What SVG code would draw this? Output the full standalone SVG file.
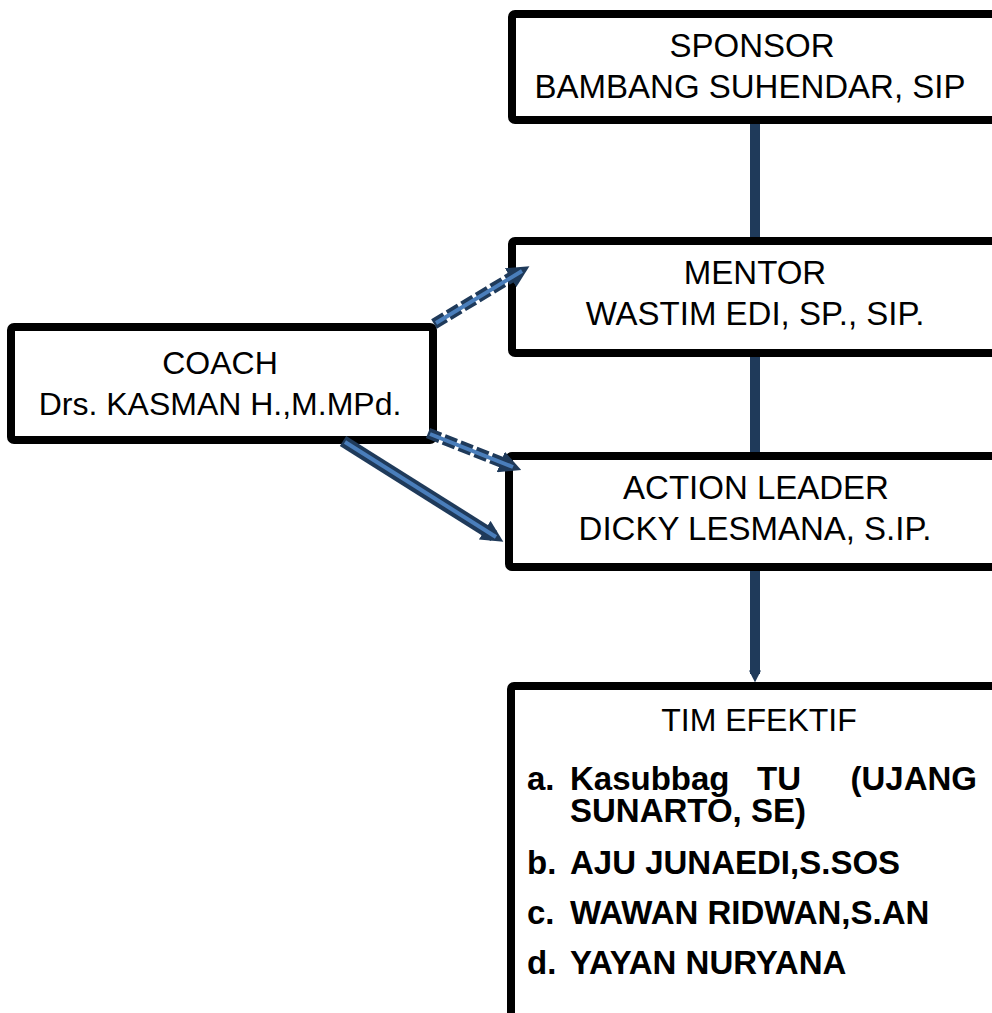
<svg xmlns="http://www.w3.org/2000/svg" width="992" height="1013" viewBox="0 0 992 1013">
<style>
.box{fill:#fff;stroke:#000;stroke-width:8}
.t{font-family:"Liberation Sans",Arial,sans-serif;font-size:33px;fill:#000;text-anchor:middle}
.b{font-family:"Liberation Sans",Arial,sans-serif;font-size:33px;font-weight:bold;fill:#000}
.v{stroke:#1F3A5A;stroke-width:10;fill:none}
.o{stroke:#1F3A5A;stroke-width:12;fill:none}
.od{stroke:#1F3A5A;stroke-width:11;fill:none;stroke-dasharray:13 4}
.i{stroke:#4A7EBB;stroke-width:4;fill:none}
</style>
<defs>
<marker id="ah" viewBox="0 0 10 10" refX="5" refY="5" markerWidth="22" markerHeight="22" markerUnits="userSpaceOnUse" orient="auto">
<path d="M0,0 L10,5 L0,10 z" fill="#1F3A5A"/>
</marker>
<marker id="av" viewBox="0 0 10 10" refX="3" refY="5" markerWidth="12" markerHeight="24" markerUnits="userSpaceOnUse" orient="auto">
<path d="M0,0 L10,5 L0,10 z" fill="#1F3A5A"/>
</marker>
</defs>
<g id="sponsor">
<rect class="box" x="512" y="14" width="500" height="106" rx="3"/>
<text class="t" x="752" y="57">SPONSOR</text>
<text class="t" x="750" y="98">BAMBANG SUHENDAR, SIP</text>
</g>
<g id="mentor">
<rect class="box" x="512" y="241" width="500" height="112" rx="3"/>
<text class="t" x="755" y="284">MENTOR</text>
<text class="t" x="755" y="325">WASTIM EDI, SP., SIP.</text>
</g>
<g id="coach">
<rect class="box" x="11" y="327" width="422" height="113" rx="3"/>
<text class="t" x="220" y="374" style="font-size:32px">COACH</text>
<text class="t" x="220" y="415" style="font-size:32px">Drs. KASMAN H.,M.MPd.</text>
</g>
<g id="action-leader">
<rect class="box" x="509" y="456" width="503" height="111" rx="3"/>
<text class="t" x="756" y="499">ACTION LEADER</text>
<text class="t" x="755" y="540">DICKY LESMANA, S.IP.</text>
</g>
<g id="tim-efektif">
<rect class="box" x="511" y="686" width="501" height="360" rx="3"/>
<text class="t" x="759" y="731" style="font-size:32px">TIM EFEKTIF</text>
<text class="b" x="527" y="790">a.</text>
<text class="b" x="570" y="790">Kasubbag</text>
<text class="b" x="757" y="790">TU</text>
<text class="b" x="977" y="790" text-anchor="end">(UJANG</text>
<text class="b" x="570" y="822">SUNARTO, SE)</text>
<text class="b" x="527" y="874">b.</text>
<text class="b" x="570" y="874">AJU JUNAEDI,S.SOS</text>
<text class="b" x="527" y="924">c.</text>
<text class="b" x="570" y="924">WAWAN RIDWAN,S.AN</text>
<text class="b" x="527" y="974">d.</text>
<text class="b" x="570" y="974">YAYAN NURYANA</text>
</g>
<g id="connectors">
<line class="v" x1="755" y1="124" x2="755" y2="237"/>
<line class="v" x1="755" y1="357" x2="755" y2="452"/>
<line class="v" x1="755" y1="571" x2="755" y2="674" marker-end="url(#av)"/>
<line class="od" x1="434" y1="324" x2="520" y2="272" marker-end="url(#ah)"/>
<line class="i" x1="436" y1="323" x2="522" y2="271"/>
<line class="od" x1="428" y1="433" x2="511" y2="466" marker-end="url(#ah)"/>
<line class="i" x1="430" y1="434" x2="513" y2="467"/>
<line class="o" x1="343" y1="441" x2="494" y2="536" marker-end="url(#ah)"/>
<line class="i" x1="345" y1="442" x2="496" y2="537"/>
</g>
</svg>
